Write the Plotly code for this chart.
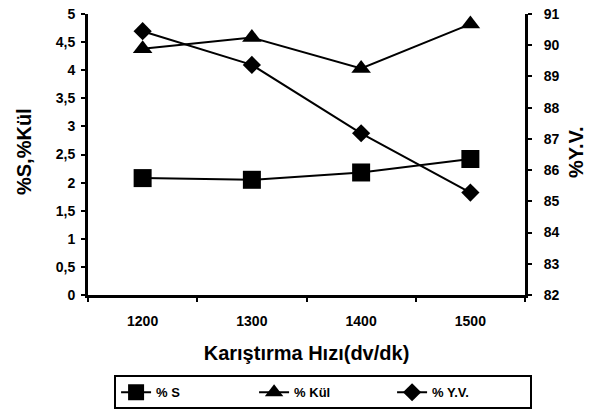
import plotly.graph_objects as go

# Mixing speed (rpm) and measured results
hiz = ["1200", "1300", "1400", "1500"]
kukurt = [2.08, 2.05, 2.18, 2.42]      # % S
kul = [4.38, 4.58, 4.03, 4.82]         # % Kül
yanici = [90.45, 89.37, 87.18, 85.28]  # % Y.V.

sol_tickvals = [0, 0.5, 1, 1.5, 2, 2.5, 3, 3.5, 4, 4.5, 5]
sol_ticktext = ["0", "0,5", "1", "1,5", "2", "2,5", "3", "3,5", "4", "4,5", "5"]
sag_tickvals = [82, 83, 84, 85, 86, 87, 88, 89, 90, 91]

FONT = "Liberation Sans"
BLACK = "#000000"

fig = go.Figure()
fig.add_trace(go.Scatter(
    x=hiz, y=kukurt, name="% S", mode="lines+markers",
    line=dict(color=BLACK, width=2),
    marker=dict(symbol="square", size=18, color=BLACK),
))
fig.add_trace(go.Scatter(
    x=hiz, y=kul, name="% Kül", mode="lines+markers",
    line=dict(color=BLACK, width=2),
    marker=dict(symbol="triangle-up", size=17, color=BLACK),
))
fig.add_trace(go.Scatter(
    x=hiz, y=yanici, name="% Y.V.", mode="lines+markers", yaxis="y2",
    line=dict(color=BLACK, width=2),
    marker=dict(symbol="diamond", size=14, color=BLACK),
))

tick_font = dict(family=FONT, size=14, color=BLACK, weight="bold")
title_font = dict(family=FONT, size=20, color=BLACK, weight="bold")

common = dict(showgrid=False, zeroline=False, showline=True, linecolor=BLACK,
              linewidth=3, tickcolor=BLACK, tickwidth=2, ticklen=4,
              automargin=False)

fig.update_layout(
    width=595, height=417,
    margin=dict(l=88, r=70, t=14, b=122),
    paper_bgcolor="white", plot_bgcolor="white",
    font=dict(family=FONT, color=BLACK),
    showlegend=True,
    xaxis=dict(
        type="category", range=[-0.5, 3.5], tickson="boundaries",
        ticks="outside", tickfont=tick_font, ticklabelstandoff=11,
        title=dict(text="Karıştırma Hızı(dv/dk)", font=title_font, standoff=19),
        **common,
    ),
    yaxis=dict(
        range=[0, 5], tickvals=sol_tickvals, ticktext=sol_ticktext,
        ticks="outside", tickfont=tick_font, ticklabelstandoff=3,
        **common,
    ),
    yaxis2=dict(
        range=[82, 91], tickvals=sag_tickvals,
        overlaying="y", side="right", anchor="x",
        ticks="outside", tickfont=tick_font, ticklabelstandoff=9,
        **common,
    ),
    # inner halves of the crossing tick marks
    yaxis3=dict(range=[0, 5], tickvals=sol_tickvals, overlaying="y", side="left",
                anchor="x", ticks="inside", showticklabels=False, **common),
    yaxis4=dict(range=[82, 91], tickvals=sag_tickvals, overlaying="y", side="right",
                anchor="x", ticks="inside", showticklabels=False, **common),
    legend=dict(
        orientation="h", xref="container", yref="container",
        x=0.543, xanchor="center", y=0.1, yanchor="top",
        bordercolor=BLACK, borderwidth=2, bgcolor="white",
        font=dict(family=FONT, size=13, color=BLACK, weight="bold"),
        entrywidth=93, tracegroupgap=0,
    ),
    annotations=[
        dict(text="%S,%Kül", textangle=-90, xref="paper", yref="paper",
             x=-0.148, y=0.51, xanchor="center", yanchor="middle",
             showarrow=False, font=title_font),
        dict(text="%Y.V.", textangle=-90, xref="paper", yref="paper",
             x=1.115, y=0.51, xanchor="center", yanchor="middle",
             showarrow=False, font=title_font),
    ],
)

fig.write_html("out.html")
